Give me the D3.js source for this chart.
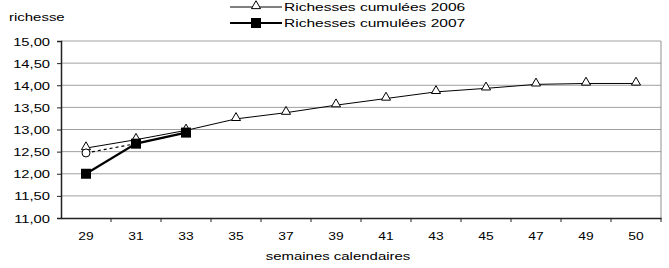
<!DOCTYPE html>
<html>
<head>
<meta charset="utf-8">
<script src="https://cdn.jsdelivr.net/npm/d3@7"></script>
<style>
  body { margin: 0; background: #fff; }
  text { font-family: "Liberation Sans", Arial, sans-serif; fill: #000; }
</style>
</head>
<body>
<div id="chart"></div>
<script>
// semaines calendaires
const weeks = ["29", "31", "33", "35", "37", "39", "41", "43", "45", "47", "49", "50"];
const yTicks = [11, 11.5, 12, 12.5, 13, 13.5, 14, 14.5, 15];

const rich2006 = [12.58, 12.77, 12.98, 13.24, 13.38, 13.55, 13.70, 13.85, 13.93, 14.02, 14.04, 14.04];
const rich2007 = [12.00, 12.68, 12.93];
// petite serie en pointillés (hors légende)
const richEst = [12.47, 12.68, 12.93];

const w = 669, h = 268;
const margin = { left: 61, right: 8, top: 41, bottom: 50 };

const svg = d3.select("#chart").append("svg")
  .attr("width", w)
  .attr("height", h);

// le texte d'Excel est plus large que l'Arial normal
function stretch(sel, k) {
  sel.each(function() {
    const len = this.getComputedTextLength();
    d3.select(this)
      .attr("textLength", len * k)
      .attr("lengthAdjust", "spacingAndGlyphs");
  });
}

const x = d3.scaleBand()
  .domain(weeks)
  .range([margin.left, w - margin.right]);

const y = d3.scaleLinear()
  .domain([11, 15])
  .range([h - margin.bottom, margin.top]);

const fmt = v => d3.format(".2f")(v).replace(".", ",");

// grille
svg.selectAll("line.grid")
  .data(yTicks.slice(1))
  .enter().append("line")
  .attr("class", "grid")
  .attr("x1", margin.left).attr("x2", w - margin.right)
  .attr("y1", d => y(d)).attr("y2", d => y(d))
  .attr("stroke", "#a0a0a0")
  .attr("stroke-width", 1);

// bord droit
svg.append("line")
  .attr("x1", w - margin.right).attr("x2", w - margin.right)
  .attr("y1", y(15)).attr("y2", y(11))
  .attr("stroke", "#909090");

// axe Y
const yAxis = d3.axisLeft(y).tickValues(yTicks).tickSize(4).tickFormat(fmt);
const gy = svg.append("g")
  .attr("transform", `translate(${margin.left},0)`)
  .call(yAxis);
gy.select(".domain").attr("stroke", "#222").attr("stroke-width", 1.5);
gy.selectAll(".tick line").attr("stroke", "#222");
gy.selectAll("text").attr("font-size", 11.5).attr("x", -11).attr("dy", "0.35em")
  .style("font-family", "'Liberation Sans', Arial, sans-serif")
  .call(stretch, 1.28);

// axe X
const xAxis = d3.axisBottom(x).tickSize(0).tickPadding(14);
const gx = svg.append("g")
  .attr("transform", `translate(0,${y(11)})`)
  .call(xAxis);
gx.select(".domain").attr("stroke", "#222").attr("stroke-width", 1.5);
gx.selectAll("text").attr("font-size", 11.5)
  .style("font-family", "'Liberation Sans', Arial, sans-serif")
  .call(stretch, 1.2);

// graduations entre catégories
svg.selectAll("line.xt")
  .data(weeks)
  .enter().append("line")
  .attr("class", "xt")
  .attr("x1", d => x(d) + x.bandwidth()).attr("x2", d => x(d) + x.bandwidth())
  .attr("y1", y(11)).attr("y2", y(11) + 4)
  .attr("stroke", "#222");

const cx = i => x(weeks[i]) + x.bandwidth() / 2;
const line = d3.line().x((d, i) => cx(i)).y(d => y(d));

// série en pointillés
svg.append("path")
  .datum(richEst)
  .attr("d", line)
  .attr("fill", "none")
  .attr("stroke", "#000")
  .attr("stroke-width", 1.2)
  .attr("stroke-dasharray", "3,3");

// série 2006
svg.append("path")
  .datum(rich2006)
  .attr("d", line)
  .attr("fill", "none")
  .attr("stroke", "#000")
  .attr("stroke-width", 1);

const tri = d3.symbol().type(d3.symbolTriangle).size(36);
svg.selectAll("path.t06")
  .data(rich2006)
  .enter().append("path")
  .attr("class", "t06")
  .attr("d", tri)
  .attr("transform", (d, i) => `translate(${cx(i)},${y(d) - 1})`)
  .attr("fill", "#fff")
  .attr("stroke", "#000")
  .attr("stroke-width", 1);

svg.selectAll("circle.est")
  .data(richEst)
  .enter().append("circle")
  .attr("class", "est")
  .attr("cx", (d, i) => cx(i))
  .attr("cy", d => y(d))
  .attr("r", 4)
  .attr("fill", (d, i) => i === 0 ? "#fff" : "#000")
  .attr("stroke", "#000");

// série 2007
svg.append("path")
  .datum(rich2007)
  .attr("d", line)
  .attr("fill", "none")
  .attr("stroke", "#000")
  .attr("stroke-width", 2.2);

svg.selectAll("rect.s07")
  .data(rich2007)
  .enter().append("rect")
  .attr("class", "s07")
  .attr("x", (d, i) => cx(i) - 5)
  .attr("y", d => y(d) - 5)
  .attr("width", 10).attr("height", 10)
  .attr("fill", "#000");

// titres
svg.append("text")
  .attr("x", 9).attr("y", 21)
  .attr("font-size", 11.5)
  .text("richesse")
  .call(stretch, 1.3);

svg.append("text")
  .attr("x", 338)
  .attr("y", 260)
  .attr("text-anchor", "middle")
  .attr("font-size", 11.5)
  .text("semaines calendaires")
  .call(stretch, 1.3);

// légende
const legend = [
  { label: "Richesses cumulées 2006", ly: 7, sw: 1, mark: "tri" },
  { label: "Richesses cumulées 2007", ly: 23, sw: 2.2, mark: "sq" }
];
const lg = svg.selectAll("g.leg").data(legend).enter().append("g").attr("class", "leg");
lg.append("line")
  .attr("x1", 230).attr("x2", 282)
  .attr("y1", d => d.ly).attr("y2", d => d.ly)
  .attr("stroke", "#000")
  .attr("stroke-width", d => d.sw);
lg.filter(d => d.mark === "tri").append("path")
  .attr("d", tri)
  .attr("transform", d => `translate(256,${d.ly - 1})`)
  .attr("fill", "#fff").attr("stroke", "#000");
lg.filter(d => d.mark === "sq").append("rect")
  .attr("x", 251).attr("y", d => d.ly - 5)
  .attr("width", 10).attr("height", 10)
  .attr("fill", "#000");
lg.append("text")
  .attr("x", 284).attr("y", d => d.ly)
  .attr("dy", "0.35em")
  .attr("font-size", 11.5)
  .text(d => d.label)
  .call(stretch, 1.35);
</script>
</body>
</html>
